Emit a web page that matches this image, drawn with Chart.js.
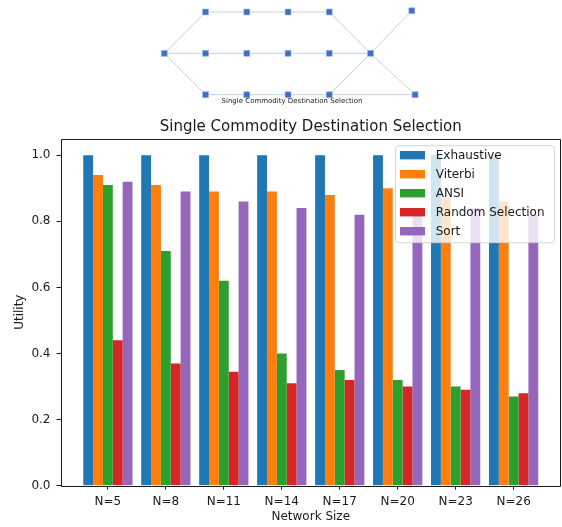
<!DOCTYPE html>
<html>
<head>
<meta charset="utf-8">
<script src="https://cdn.jsdelivr.net/npm/chart.js@4.4.1/dist/chart.umd.min.js"></script>
<style>
  body { margin: 0; background: #fff; }
  #wrap { position: relative; width: 562px; height: 527px; }
  canvas { position: absolute; left: 0; top: 0; }
  #caption {
    position: absolute; left: 0; width: 584px; top: 97px;
    text-align: center; font: 7px "DejaVu Sans"; color: #222;
  }
</style>
</head>
<body>
<div id="wrap">
  <canvas id="myChart" width="562" height="527"></canvas>
  <canvas id="graph" width="562" height="110"></canvas>
  <div id="caption">Single Commodity Destination Selection</div>
</div>
<script>
const sizes = ["N=5", "N=8", "N=11", "N=14", "N=17", "N=20", "N=23", "N=26"];
const exhaustive = [1.0, 1.0, 1.0, 1.0, 1.0, 1.0, 1.0, 1.0];
const viterbi = [0.94, 0.91, 0.89, 0.89, 0.88, 0.90, 0.87, 0.86];
const ansi = [0.91, 0.71, 0.62, 0.40, 0.35, 0.32, 0.30, 0.27];
const randomSel = [0.44, 0.37, 0.345, 0.31, 0.32, 0.30, 0.29, 0.28];
const sortVals = [0.92, 0.89, 0.86, 0.84, 0.82, 0.82, 0.84, 0.82];
const yTicks = [0.0, 0.2, 0.4, 0.6, 0.8, 1.0];
const chartTitle = "Single Commodity Destination Selection";

// network drawn above the chart (grid layout units)
const graphNodeX = [0, 1, 2, 3, 4, 1, 2, 3, 4, 5, 1, 2, 3, 4, 6.0, 6.08];
const graphNodeY = [1, 2, 2, 2, 2, 1, 1, 1, 1, 1, 0, 0, 0, 0, 2.03, 0];
const graphEdges = [
  [0, 1], [0, 5], [0, 10], [1, 2], [2, 3], [3, 4], [4, 9],
  [5, 6], [6, 7], [7, 8], [8, 9], [10, 11], [11, 12], [12, 13],
  [13, 9], [13, 15], [9, 14], [9, 15],
];

const FONT = "DejaVu Sans";
const INK = "#1a1a1a";

const toPoints = (vals) => vals.map((v, i) => ({ x: i, y: v }));

const data = {
  datasets: [
    { label: "Exhaustive", data: toPoints(exhaustive), backgroundColor: "#1f77b4" },
    { label: "Viterbi", data: toPoints(viterbi), backgroundColor: "#ff7f0e" },
    { label: "ANSI", data: toPoints(ansi), backgroundColor: "#2ca02c" },
    { label: "Random Selection", data: toPoints(randomSel), backgroundColor: "#d62728" },
    { label: "Sort", data: toPoints(sortVals), backgroundColor: "#9467bd" },
  ],
};

// axes frame like matplotlib spines, plus title centred over the axes
const frame = {
  id: "frame",
  afterDatasetsDraw(chart) {
    const { ctx, chartArea: a } = chart;
    ctx.save();
    ctx.strokeStyle = INK;
    ctx.lineWidth = 1;
    const l = Math.round(a.left) + 0.5, t = Math.round(a.top) + 0.5;
    const r = Math.round(a.right) - 0.5, b = Math.round(a.bottom) + 0.5;
    ctx.beginPath();
    ctx.moveTo(l, t); ctx.lineTo(r, t); ctx.lineTo(r, b); ctx.lineTo(l, b); ctx.closePath();
    ctx.stroke();
    ctx.font = "15px " + FONT;
    ctx.fillStyle = INK;
    ctx.textAlign = "center";
    ctx.textBaseline = "alphabetic";
    ctx.fillText(chartTitle, (a.left + a.right) / 2, a.top - 8);
    ctx.restore();
  },
};

// legend inside the plot, upper right
const innerLegend = {
  id: "innerLegend",
  afterDraw(chart) {
    const { ctx, chartArea: a } = chart;
    const w = 159, h = 97;
    const x = a.right - 7 - w, y = a.top + 6.5;
    ctx.save();
    ctx.beginPath();
    ctx.roundRect(x + 0.5, y + 0.5, w, h, 3);
    ctx.fillStyle = "rgba(255,255,255,0.8)";
    ctx.fill();
    ctx.strokeStyle = "rgba(204,204,204,0.8)";
    ctx.lineWidth = 1;
    ctx.stroke();
    ctx.font = "12px " + FONT;
    ctx.textBaseline = "middle";
    chart.data.datasets.forEach((ds, i) => {
      const cy = y + 10 + i * 19;
      ctx.fillStyle = ds.backgroundColor;
      ctx.fillRect(x + 5, cy - 4.2, 25, 8.4);
      ctx.fillStyle = INK;
      ctx.fillText(ds.label, x + 40.7, cy + 0.5);
    });
    ctx.restore();
  },
};

const config = {
  type: "bar",
  data: data,
  options: {
    responsive: false,
    animation: false,
    layout: { autoPadding: false, padding: { left: 0, right: 1, top: 138.7, bottom: 0 } },
    datasets: { bar: { categoryPercentage: 0.85, barPercentage: 1.0 } },
    scales: {
      x: {
        type: "linear",
        min: -0.8175,
        max: 7.8175,
        offset: false,
        afterBuildTicks: (scale) => { scale.ticks = sizes.map((_, i) => ({ value: i })); },
        afterFit: (scale) => { scale.height = 41.3; scale.paddingLeft = 0; scale.paddingRight = 0; },
        grid: { offset: false, drawOnChartArea: false, tickLength: 4, tickColor: INK },
        border: { display: false },
        ticks: {
          padding: 5,
          color: INK,
          font: { family: FONT, size: 12 },
          autoSkip: false,
          maxRotation: 0,
          callback: (v, i) => sizes[i],
        },
        title: {
          display: true,
          text: "Network Size",
          color: INK,
          font: { family: FONT, size: 12 },
          padding: { top: 0, bottom: 3 },
        },
      },
      y: {
        min: 0,
        max: 1.05,
        afterBuildTicks: (scale) => { scale.ticks = yTicks.map((v) => ({ value: v })); },
        afterFit: (scale) => { scale.width = 60.5; scale.paddingTop = 0; scale.paddingBottom = 0; },
        grid: { offset: false, drawOnChartArea: false, tickLength: 4, tickColor: INK },
        border: { display: false },
        ticks: {
          padding: 6,
          color: INK,
          font: { family: FONT, size: 12 },
          callback: (v) => v.toFixed(1),
        },
        title: {
          display: true,
          text: "Utility",
          color: INK,
          font: { family: FONT, size: 12 },
          padding: { top: 13, bottom: 0 },
        },
      },
    },
    plugins: {
      legend: { display: false },
      tooltip: { enabled: false },
      title: { display: false },
    },
  },
  plugins: [frame, innerLegend],
};

const myChart = new Chart(document.getElementById("myChart").getContext("2d"), config);

// small network picture on top
const edgeSets = graphEdges.map(([a, b]) => ({
  type: "line",
  data: [
    { x: graphNodeX[a], y: graphNodeY[a] },
    { x: graphNodeX[b], y: graphNodeY[b] },
  ],
  borderColor: "#c3d1ec",
  borderWidth: 1,
  pointRadius: 0,
  showLine: true,
  order: 2,
}));

const graphChart = new Chart(document.getElementById("graph").getContext("2d"), {
  type: "scatter",
  data: {
    datasets: [
      ...edgeSets,
      {
        data: graphNodeX.map((x, i) => ({ x: x, y: graphNodeY[i] })),
        pointStyle: "rect",
        pointRadius: 4.2,
        backgroundColor: "#3f6fc2",
        borderColor: "#9fb6e0",
        borderWidth: 0.6,
        order: 1,
      },
    ],
  },
  options: {
    responsive: false,
    animation: false,
    layout: { autoPadding: false, padding: 0 },
    scales: {
      x: { type: "linear", display: false, min: -3.983, max: 9.641 },
      y: { type: "linear", display: false, min: -0.37, max: 2.29 },
    },
    plugins: { legend: { display: false }, tooltip: { enabled: false } },
  },
});
</script>
</body>
</html>
